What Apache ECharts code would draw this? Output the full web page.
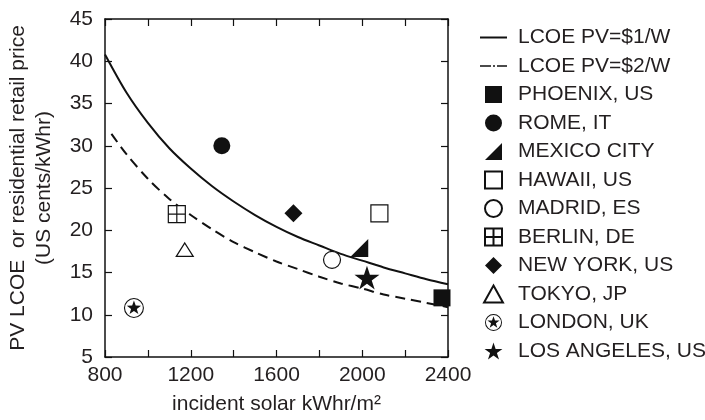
<!DOCTYPE html>
<html>
<head>
<meta charset="utf-8">
<script src="https://cdn.jsdelivr.net/npm/echarts@6/dist/echarts.min.js"></script>
<style>
html,body{margin:0;padding:0;background:#fff;}
#chart{width:705px;height:420px;}
</style>
</head>
<body>
<div id="chart"></div>
<script>
// ---- data ----
var xTicks = [800, 1200, 1600, 2000, 2400];
var yTicks = [5, 10, 15, 20, 25, 30, 35, 40, 45];

var lcoe1X = [800, 900, 1000, 1100, 1200, 1300, 1400, 1500, 1600, 1700, 1800, 1900, 2000, 2100, 2200, 2300, 2400];
var lcoe1Y = [40.8, 36.3, 32.7, 29.7, 27.3, 25.2, 23.4, 21.8, 20.4, 19.2, 18.2, 17.2, 16.4, 15.6, 14.9, 14.2, 13.6];

var lcoe2X = [830, 900, 1000, 1100, 1200, 1300, 1400, 1500, 1600, 1700, 1800, 1900, 2000, 2100, 2200, 2300, 2400];
var lcoe2Y = [31.4, 29.0, 26.1, 23.7, 21.8, 20.1, 18.6, 17.4, 16.3, 15.4, 14.5, 13.7, 13.1, 12.4, 11.9, 11.4, 10.9];

var cities = ['PHOENIX, US', 'ROME, IT', 'MEXICO CITY', 'HAWAII, US', 'MADRID, ES', 'BERLIN, DE', 'NEW YORK, US', 'TOKYO, JP', 'LONDON, UK', 'LOS ANGELES, US'];
var cityX = [2372, 1345, 1986, 2080, 1859, 1135, 1679, 1172, 935, 2022];
var cityY = [12.0, 30.0, 17.9, 22.0, 16.5, 21.9, 22.0, 17.7, 10.8, 14.4];

// ---- styles ----
var FONT = '"Liberation Sans", Arial, Helvetica, sans-serif';
var TXT = '#231f20';
var starPath = 'path://M10,0 L12.25,6.91 L19.51,6.91 L13.63,11.18 L15.88,18.09 L10,13.82 L4.12,18.09 L6.37,11.18 L0.49,6.91 L7.75,6.91 Z';
var ringStarPath = 'path://M20,10 A10,10 0 1,1 0,10 A10,10 0 1,1 20,10 Z M18.9,10 A8.9,8.9 0 1,0 1.1,10 A8.9,8.9 0 1,0 18.9,10 Z M10,2.5 L11.76,7.57 L17.13,7.68 L12.85,10.93 L14.41,16.07 L10,13 L5.59,16.07 L7.15,10.93 L2.87,7.68 L8.24,7.57 Z';
var gridPath = 'path://M0,0 H10 V10 H0 Z M5,0 V10 M0,5 H10';
var rightTriPath = 'path://M0,10 L10,0 L10,10 Z';
var squarePath = 'path://M0,0 H10 V10 H0 Z';
var diamondPath = 'path://M5,0 L10,5 L5,10 L0,5 Z';
var triPath = 'path://M5,0 L10,9 L0,9 Z';
var solidIcon = 'path://M0,0 H27 V2 H0 Z';
var dashIcon = 'path://M0,0 H11 V1.4 H0 Z M13,0 H15 V1.4 H13 Z M17,0 H27 V1.4 H17 Z';

var citySym = [
  {symbol: squarePath, size: 17, fill: '#111', border: '#111', bw: 0},
  {symbol: 'circle', size: 17, fill: '#111', border: '#111', bw: 0},
  {symbol: rightTriPath, size: 18, fill: '#111', border: '#111', bw: 0},
  {symbol: squarePath, size: 17, fill: '#fff', border: '#111', bw: 1.2},
  {symbol: 'circle', size: 17, fill: '#fff', border: '#111', bw: 1.2},
  {symbol: gridPath, size: 17, fill: '#fff', border: '#111', bw: 1.2},
  {symbol: diamondPath, size: 18, fill: '#111', border: '#111', bw: 0},
  {symbol: triPath, size: [17, 15], fill: '#fff', border: '#111', bw: 1.2},
  {symbol: ringStarPath, size: 20, fill: '#111', border: '#111', bw: 0},
  {symbol: starPath, size: 25, fill: '#111', border: '#111', bw: 0}
];

function zip(a, b) { return a.map(function (v, i) { return [v, b[i]]; }); }

var series = [
  {
    name: 'LCOE PV=$1/W', type: 'line', data: zip(lcoe1X, lcoe1Y), smooth: 0.3,
    symbol: 'none', lineStyle: {color: '#111', width: 2}, itemStyle: {color: '#111'}, z: 2
  },
  {
    name: 'LCOE PV=$2/W', type: 'line', data: zip(lcoe2X, lcoe2Y), smooth: 0.3,
    symbol: 'none', lineStyle: {color: '#111', width: 2, type: [10, 6]}, itemStyle: {color: '#111'}, z: 2
  }
];
var legendData = [
  {name: 'LCOE PV=$1/W', icon: solidIcon, itemStyle: {color: '#111'}},
  {name: 'LCOE PV=$2/W', icon: dashIcon, itemStyle: {color: '#111'}}
];
cities.forEach(function (c, i) {
  var s = citySym[i];
  series.push({
    name: c, type: 'scatter', data: [[cityX[i], cityY[i]]],
    symbol: s.symbol, symbolSize: s.size, symbolKeepAspect: true,
    itemStyle: {color: s.fill, borderColor: s.border, borderWidth: s.bw, opacity: 1},
    z: 5
  });
  legendData.push({name: c, icon: s.symbol});
});

var axisLineStyle = {color: '#111', width: 1.5};
var chart = echarts.init(document.getElementById('chart'), null, {renderer: 'canvas'});
chart.setOption({
  animation: false,
  backgroundColor: '#fff',
  textStyle: {fontFamily: FONT, color: TXT},
  grid: {left: 105, right: 257, top: 19, bottom: 59, containLabel: false},
  legend: {
    orient: 'vertical', left: 475, top: 22,
    itemWidth: 27, itemHeight: 17, itemGap: 7.5, symbolKeepAspect: true,
    textStyle: {fontFamily: FONT, fontSize: 21, color: TXT, padding: [0, 0, 0, 6]},
    data: legendData
  },
  xAxis: [
    {
      type: 'value', min: 800, max: 2400, interval: 200, position: 'bottom',
      name: 'incident solar kWhr/m²', nameLocation: 'middle', nameGap: 37,
      nameTextStyle: {fontFamily: FONT, fontSize: 21, color: TXT},
      axisLine: {lineStyle: axisLineStyle},
      axisTick: {inside: true, length: 7, lineStyle: {color: '#111', width: 1.2}},
      axisLabel: {
        fontFamily: FONT, fontSize: 21, color: TXT, margin: 8,
        formatter: function (v) { return xTicks.indexOf(v) >= 0 ? String(v) : ''; }
      },
      splitLine: {show: false}
    },
    {
      type: 'value', min: 800, max: 2400, interval: 200, position: 'top',
      axisLine: {lineStyle: axisLineStyle},
      axisTick: {inside: true, length: 7, lineStyle: {color: '#111', width: 1.2}},
      axisLabel: {show: false}, splitLine: {show: false}
    }
  ],
  yAxis: [
    {
      type: 'value', min: 5, max: 45, interval: 5, position: 'left',
      name: 'PV LCOE  or residential retail price\n(US cents/kWhr)',
      nameLocation: 'middle', nameGap: 48, nameRotate: 90,
      nameTextStyle: {fontFamily: FONT, fontSize: 21, color: TXT, lineHeight: 26, align: 'center'},
      axisLine: {lineStyle: axisLineStyle},
      axisTick: {inside: true, length: 7, lineStyle: {color: '#111', width: 1.2}},
      axisLabel: {
        fontFamily: FONT, fontSize: 21, color: TXT, margin: 12,
        formatter: function (v) { return yTicks.indexOf(v) >= 0 ? String(v) : ''; }
      },
      splitLine: {show: false}
    },
    {
      type: 'value', min: 5, max: 45, interval: 5, position: 'right',
      axisLine: {lineStyle: axisLineStyle},
      axisTick: {inside: true, length: 7, lineStyle: {color: '#111', width: 1.2}},
      axisLabel: {show: false}, splitLine: {show: false}
    }
  ],
  series: series
});
</script>
</body>
</html>
